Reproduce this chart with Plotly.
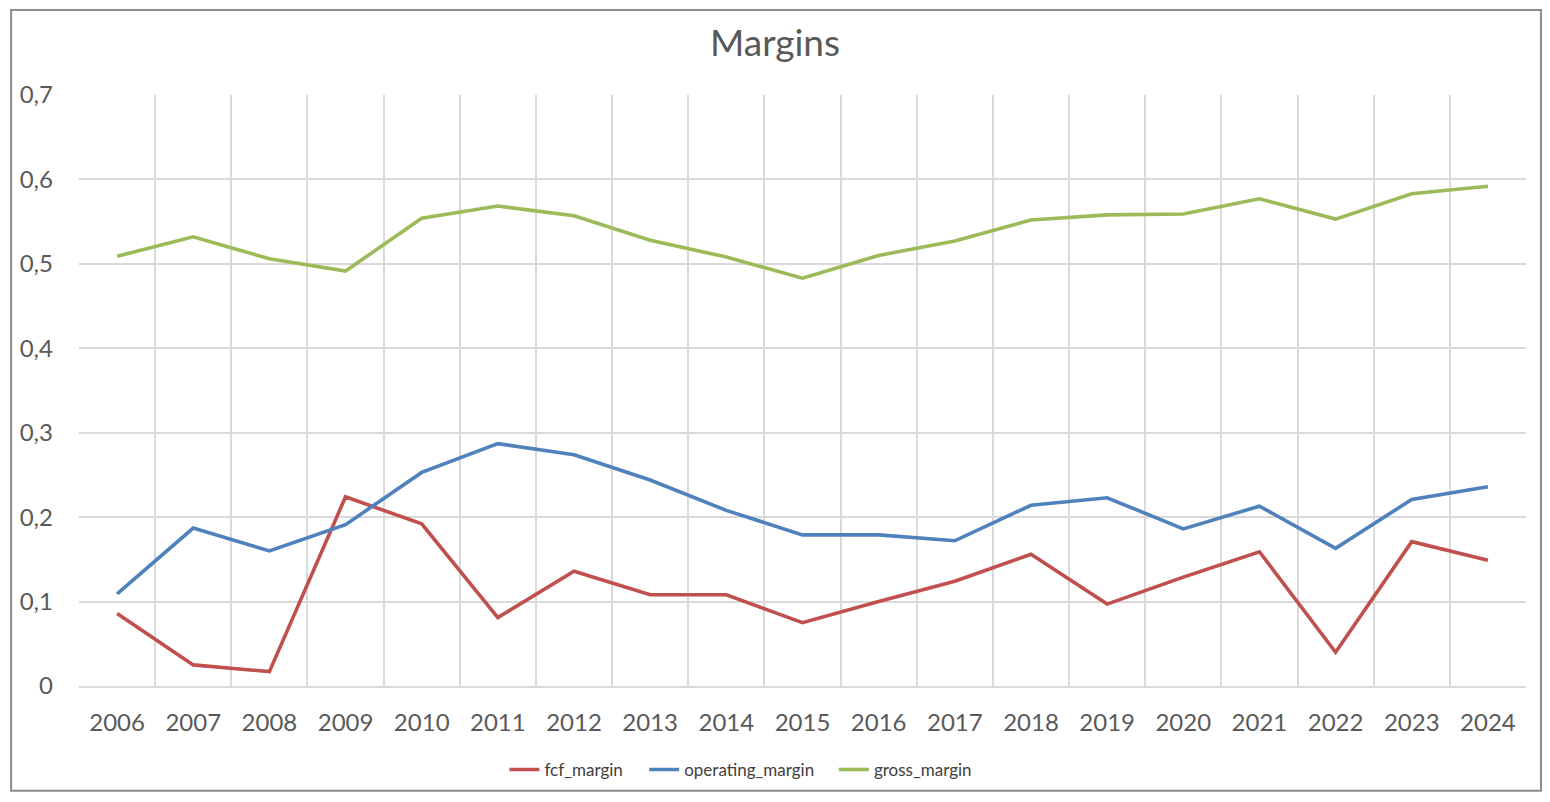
import plotly.graph_objects as go

years = [str(y) for y in range(2006, 2025)]
fcf_margin = [0.086, 0.025, 0.017, 0.224, 0.192, 0.081, 0.136, 0.108, 0.108, 0.075,
              0.100, 0.124, 0.156, 0.097, 0.129, 0.159, 0.040, 0.171, 0.149]
operating_margin = [0.109, 0.187, 0.160, 0.191, 0.253, 0.287, 0.274, 0.244, 0.208, 0.179,
                    0.179, 0.172, 0.214, 0.223, 0.186, 0.213, 0.163, 0.221, 0.236]
gross_margin = [0.509, 0.532, 0.506, 0.4915, 0.554, 0.5685, 0.557, 0.528, 0.508, 0.483,
                0.510, 0.527, 0.552, 0.558, 0.559, 0.577, 0.553, 0.583, 0.592]

series = [
    ("fcf_margin", fcf_margin, "#C0504D", "legend", 0.294),
    ("operating_margin", operating_margin, "#4F81BD", "legend2", 0.3906),
    ("gross_margin", gross_margin, "#9BBB59", "legend3", 0.5217),
]

font_family = "Lato, 'Open Sans', sans-serif"
text_color = "#595959"
grid_color = "#D9D9D9"

W, H = 1534, 792
L, R, T, B = 69, 16, 87, 107
PH = H - T - B

fig = go.Figure()
legends = {}
for name, vals, color, leg, lx in series:
    fig.add_trace(go.Scatter(
        x=years, y=vals, name=name, mode="lines",
        line=dict(color=color, width=3.6), legend=leg,
    ))
    legends[leg] = dict(orientation="h", x=lx, xanchor="left", y=-0.142, yanchor="middle",
                        font=dict(family=font_family, size=17, color="#404040"),
                        bgcolor="rgba(0,0,0,0)", borderwidth=0)

fig.update_layout(
    width=W, height=H,
    paper_bgcolor="white", plot_bgcolor="white",
    separators=",.",
    margin=dict(l=L, r=R, t=T, b=B),
    title=dict(text="Margins", x=0.5, xanchor="center", xref="container",
               y=(H - 35) / H, yanchor="middle",
               font=dict(family=font_family, size=37, color=text_color)),
    font=dict(family=font_family, color=text_color),
    showlegend=True,
    xaxis=dict(
        type="category", tickson="boundaries", showgrid=True, gridcolor=grid_color,
        gridwidth=1.5, showline=True, linecolor=grid_color, linewidth=1.5,
        ticks="", tickfont=dict(size=24, color=text_color), ticklabelstandoff=14,
        range=[-0.5, 18.5], zeroline=False,
    ),
    yaxis=dict(
        range=[0, 0.7], dtick=0.1, showgrid=True, gridcolor=grid_color, gridwidth=1.5,
        showline=False, zeroline=False, ticks="",
        tickfont=dict(size=24, color=text_color), ticklabelstandoff=25,
    ),
    shapes=[dict(type="rect", xref="paper", yref="paper",
                 x0=-(L - 1) / 1449, x1=1 + (R - 1) / 1449,
                 y0=-(B - 1) / PH, y1=1 + (T - 1) / PH,
                 line=dict(color="#8C8C8C", width=2), fillcolor="rgba(0,0,0,0)")],
    **legends,
)

fig.write_html("out.html")
